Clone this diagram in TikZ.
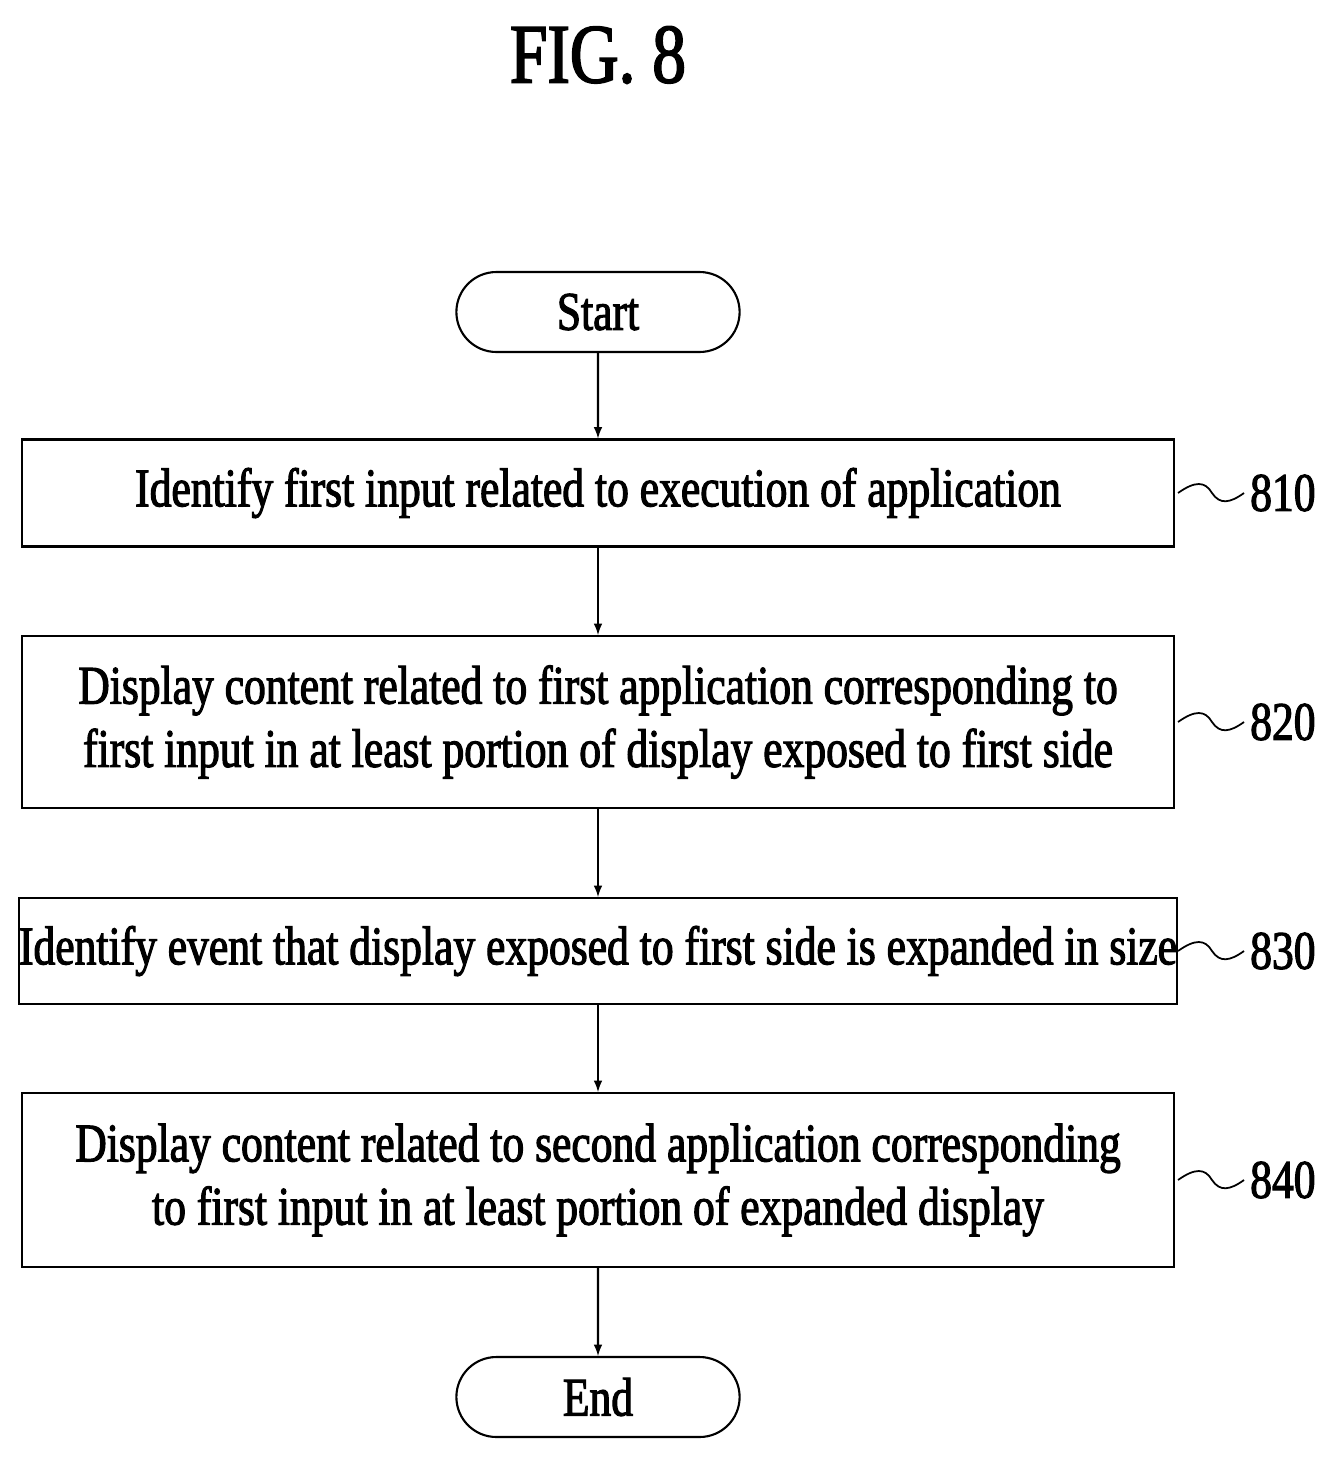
\documentclass[tikz,border=0pt]{standalone}
\usepackage{fontspec}
\setmainfont{Liberation Serif}[FakeStretch=0.8,FakeBold=2]
\usetikzlibrary{positioning, shapes.misc}
\tikzset{
  stepbox/.style={draw, line width=1.2pt, minimum width=23.06cm, align=center,
               font=\fontsize{31}{36}\selectfont, inner sep=0pt},
  term/.style={draw, line width=1.2pt, rounded rectangle, minimum width=5.9cm,
               minimum height=1.6cm, font=\fontsize{31}{36}\selectfont},
  flow/.style={-latex, line width=1.2pt},
  lead/.style={line width=1pt},
  ref/.style={font=\fontsize{31}{36}\selectfont, anchor=west}
}
\begin{document}
\begin{tikzpicture}[x=0.02cm, y=-0.02cm]
\useasboundingbox (0,0) rectangle (1332,1458);
\node[font=\fontsize{48}{52}\selectfont] (title) at (598,55) {FIG. 8};

\node[term] (start) at (598,312) {Start};
\node[stepbox, minimum height=2.14cm] (s810) at (598,493)
  {Identify first input related to execution of application};
\node[stepbox, minimum height=3.44cm] (s820) at (598,722)
  {Display content related to first application corresponding to\\
   first input in at least portion of display exposed to first side};
\node[stepbox, minimum height=2.12cm] (s830) at (598,951)
  {Identify event that display exposed to first side is expanded in size};
\node[stepbox, minimum height=3.48cm] (s840) at (598,1180)
  {Display content related to second application corresponding\\
   to first input in at least portion of expanded display};
\node[term] (end) at (598,1397) {End};

\draw[flow] (start) -- (s810);
\draw[flow] (s810) -- (s820);
\draw[flow] (s820) -- (s830);
\draw[flow] (s830) -- (s840);
\draw[flow] (s840) -- (end);

% reference numerals
\foreach \s/\y in {810/493, 820/722, 830/951, 840/1180} {
  \node[ref] (r\s) at (1244,\y) {\s};
  \coordinate (w\s) at (1178,\y);
  \draw[lead] (w\s) .. controls (1195,\y-12) and (1205,\y-12) .. (1212,\y)
                    .. controls (1220,\y+12) and (1230,\y+10) .. (r\s.west);
}
\end{tikzpicture}
\end{document}
